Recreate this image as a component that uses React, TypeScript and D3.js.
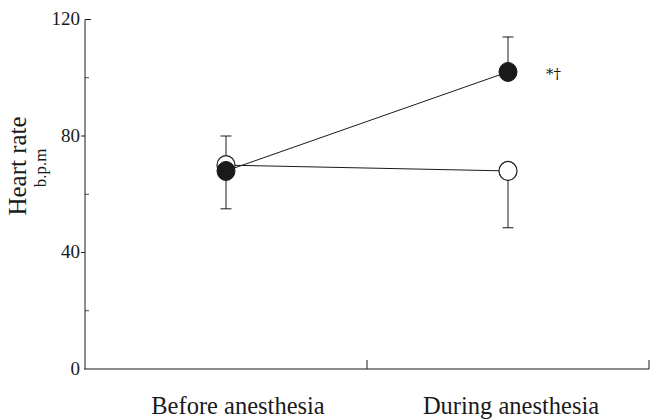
import React from "react";
import * as d3 from "d3";

const categories = ["Before anesthesia", "During anesthesia"];
const filledMean = [68, 102];
const filledUpper = [80, 114];
const openMean = [70, 68];
const openLower = [55, 48.5];
const yTicks = [0, 40, 80, 120];
const yMinorTicks = [20, 60, 100];
const annotation = "*†";

export default function App() {
  const W = 650, H = 419;
  const x0 = 85, x1 = 649, yTop = 19.5, yBot = 369;
  const x = d3.scalePoint<string>().domain(categories).range([x0, x1]).padding(0.5);
  const y = d3.scaleLinear().domain([0, 120]).range([yBot, yTop]);
  const col = "#1a1a1a";
  const font = "'Liberation Serif', 'Times New Roman', serif";
  const lineF = d3.line<number>().x((_, i) => x(categories[i])!).y((d) => y(d));
  const cap = 5.5;
  const labelDx = [12, 3];
  return (
    <svg width={W} height={H} style={{ position: "absolute", left: 0, top: 0 }}>
      <rect width={W} height={H} fill="#fff" />
      <line x1={x0} x2={x0} y1={yTop} y2={yBot} stroke={col} strokeWidth={1} />
      <line x1={x0 - 1} x2={x1} y1={yBot} y2={yBot} stroke={col} strokeWidth={1.2} />
      {yTicks.map((t) => (
        <g key={t}>
          {t === 120 ? (
            <line x1={x0} x2={x0 + 6} y1={y(t)} y2={y(t)} stroke={col} />
          ) : t > 0 ? (
            <line x1={x0 - 4} x2={x0} y1={y(t)} y2={y(t)} stroke={col} />
          ) : null}
          <text x={80} y={y(t) - 1} dy="0.35em" textAnchor="end" fontFamily={font} fontSize={19} fill={col}>
            {t}
          </text>
        </g>
      ))}
      {yMinorTicks.map((t) => (
        <line key={t} x1={x0} x2={x0 + 4} y1={y(t)} y2={y(t)} stroke={col} strokeWidth={0.8} />
      ))}
      {[(x0 + x1) / 2, x1].map((v, i) => (
        <line key={i} x1={v} x2={v} y1={yBot} y2={yBot - 9} stroke={col} />
      ))}
      {categories.map((c, i) => (
        <text key={c} x={x(c)! + labelDx[i]} y={414} textAnchor="middle" fontFamily={font} fontSize={24.5} fill={col}>
          {c}
        </text>
      ))}
      <text transform={`translate(26,166) rotate(-90)`} textAnchor="middle" fontFamily={font} fontSize={25} fill={col}>
        Heart rate
      </text>
      <text transform={`translate(46,168) rotate(-90)`} textAnchor="middle" fontFamily={font} fontSize={17} fill={col}>
        b.p.m
      </text>
      <path d={lineF(openMean)!} fill="none" stroke={col} strokeWidth={1} />
      <path d={lineF(filledMean)!} fill="none" stroke={col} strokeWidth={1} />
      {categories.map((c, i) => (
        <g key={c}>
          <line x1={x(c)} x2={x(c)} y1={y(filledMean[i])} y2={y(filledUpper[i])} stroke={col} />
          <line x1={x(c)! - cap} x2={x(c)! + cap} y1={y(filledUpper[i])} y2={y(filledUpper[i])} stroke={col} />
          <line x1={x(c)} x2={x(c)} y1={y(openMean[i])} y2={y(openLower[i])} stroke={col} />
          <line x1={x(c)! - cap} x2={x(c)! + cap} y1={y(openLower[i])} y2={y(openLower[i])} stroke={col} />
        </g>
      ))}
      {categories.map((c, i) => (
        <g key={c}>
          <ellipse cx={x(c)} cy={y(openMean[i])} rx={9} ry={9.5} fill="#fff" stroke={col} strokeWidth={1.2} />
          <ellipse cx={x(c)} cy={y(filledMean[i])} rx={9} ry={9.5} fill={col} stroke={col} />
        </g>
      ))}
      <text x={x(categories[1])! + 38} y={y(filledMean[1]) + 7} fontFamily="'DejaVu Serif', serif" fontSize={15} fill="#1a1a1a">
        {annotation}
      </text>
    </svg>
  );
}
